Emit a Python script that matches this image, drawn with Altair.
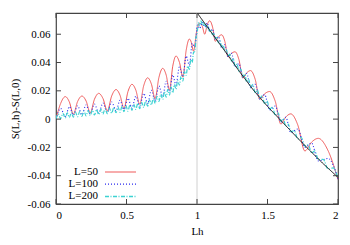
import altair as alt
import pandas as pd

x_ticks = [0, 0.5, 1, 1.5, 2]
y_ticks = [-0.06, -0.04, -0.02, 0, 0.02, 0.04, 0.06]
series_names = ["L=50", "L=100", "L=200"]

# L=50 (red, solid): troughs, shoulders and peaks
red_x = [0.000, 0.033, 0.066, 0.0945, 0.123, 0.1535, 0.184, 0.2135, 0.243, 0.273,
         0.303, 0.3335, 0.364, 0.395, 0.426, 0.454, 0.482, 0.5105, 0.539, 0.5665,
         0.594, 0.622, 0.650, 0.6765, 0.703, 0.730, 0.757, 0.781, 0.805, 0.828,
         0.851, 0.8755, 0.900, 0.923, 0.946, 0.9605, 0.975, 0.9975, 1.020, 1.0375,
         1.055, 1.0725, 1.090, 1.110, 1.130, 1.1525, 1.175, 1.1975, 1.220, 1.245,
         1.270, 1.2975, 1.325, 1.3525, 1.380, 1.4125, 1.445, 1.480, 1.515, 1.555,
         1.595, 1.630, 1.665, 1.715, 1.765, 1.8125, 1.860, 1.930, 2.000]
red_y = [0.0000, 0.0111, 0.0159, 0.0122, 0.0035, 0.0125, 0.0163, 0.0128, 0.0045, 0.0141,
         0.0182, 0.0145, 0.0058, 0.0164, 0.0209, 0.0169, 0.0076, 0.0195, 0.0246, 0.0204,
         0.0105, 0.0236, 0.0292, 0.0248, 0.0145, 0.0295, 0.0359, 0.0313, 0.0205, 0.0374,
         0.0446, 0.0401, 0.0297, 0.0485, 0.0566, 0.0540, 0.0480, 0.0620, 0.0680, 0.0656,
         0.0600, 0.0667, 0.0695, 0.0652, 0.0550, 0.0582, 0.0596, 0.0549, 0.0440, 0.0465,
         0.0476, 0.0420, 0.0290, 0.0327, 0.0343, 0.0282, 0.0140, 0.0179, 0.0195, 0.0126,
         -0.0035, 0.0015, 0.0037, -0.0042, -0.0225, -0.0163, -0.0136, -0.0224, -0.0428]

# L=100 (blue, dotted)
blue_x = [0.000, 0.033, 0.066, 0.095, 0.123, 0.153, 0.184, 0.213, 0.243, 0.273,
          0.303, 0.333, 0.364, 0.395, 0.426, 0.454, 0.482, 0.510, 0.539, 0.566,
          0.594, 0.622, 0.650, 0.676, 0.703, 0.730, 0.757, 0.781, 0.805, 0.828,
          0.851, 0.875, 0.900, 0.923, 0.946, 0.966, 0.985, 1.003, 1.020, 1.0375,
          1.055, 1.0725, 1.090, 1.110, 1.130, 1.1525, 1.175, 1.1975, 1.220, 1.245,
          1.270, 1.2975, 1.325, 1.3525, 1.380, 1.4125, 1.445, 1.480, 1.515, 1.555,
          1.595, 1.630, 1.665, 1.715, 1.765, 1.8125, 1.860, 1.930, 2.000]
blue_y = [0.0000, 0.0075, 0.0018, 0.0088, 0.0028, 0.0094, 0.0032, 0.0100, 0.0038, 0.0106,
          0.0043, 0.0113, 0.0050, 0.0121, 0.0058, 0.0133, 0.0068, 0.0147, 0.0078, 0.0162,
          0.0092, 0.0182, 0.0108, 0.0204, 0.0130, 0.0234, 0.0158, 0.0268, 0.0195, 0.0312,
          0.0240, 0.0368, 0.0300, 0.0445, 0.0380, 0.0535, 0.0510, 0.0665, 0.0640, 0.0685,
          0.0650, 0.0680, 0.0620, 0.0636, 0.0564, 0.0583, 0.0502, 0.0526, 0.0440, 0.0465,
          0.0370, 0.0392, 0.0295, 0.0323, 0.0222, 0.0246, 0.0143, 0.0173, 0.0064, 0.0092,
          -0.0020, 0.0013, -0.0095, -0.0070, -0.0200, -0.0169, -0.0295, -0.0278, -0.0422]

# L=200 (cyan, dash-dot)
cyan_x = [0.000, 0.016, 0.033, 0.049, 0.066, 0.080, 0.095, 0.109, 0.123, 0.138,
          0.153, 0.168, 0.184, 0.198, 0.213, 0.228, 0.243, 0.258, 0.273, 0.288,
          0.303, 0.318, 0.333, 0.348, 0.364, 0.379, 0.395, 0.410, 0.426, 0.440,
          0.454, 0.468, 0.482, 0.496, 0.510, 0.524, 0.539, 0.552, 0.566, 0.580,
          0.594, 0.608, 0.622, 0.636, 0.650, 0.663, 0.676, 0.690, 0.703, 0.716,
          0.730, 0.743, 0.757, 0.769, 0.781, 0.793, 0.805, 0.816, 0.828, 0.839,
          0.851, 0.863, 0.875, 0.887, 0.900, 0.911, 0.923, 0.934, 0.946, 0.956,
          0.966, 0.975, 0.985, 0.993, 1.000, 1.010, 1.020, 1.029, 1.0375, 1.046,
          1.055, 1.064, 1.0725, 1.081, 1.090, 1.100, 1.110, 1.120, 1.130, 1.141,
          1.1525, 1.164, 1.175, 1.186, 1.1975, 1.209, 1.220, 1.2325, 1.245, 1.2575,
          1.270, 1.284, 1.2975, 1.311, 1.325, 1.339, 1.3525, 1.366, 1.380, 1.396,
          1.4125, 1.429, 1.445, 1.4625, 1.480, 1.4975, 1.515, 1.535, 1.555, 1.575,
          1.595, 1.6125, 1.630, 1.6475, 1.665, 1.690, 1.715, 1.740, 1.765, 1.789,
          1.8125, 1.836, 1.860, 1.895, 1.930, 1.965, 2.000]
cyan_y = [0.0000, 0.0035, 0.0004, 0.0040, 0.0008, 0.0044, 0.0011, 0.0048, 0.0014, 0.0050,
          0.0017, 0.0053, 0.0020, 0.0057, 0.0023, 0.0060, 0.0026, 0.0063, 0.0029, 0.0067,
          0.0032, 0.0070, 0.0035, 0.0073, 0.0038, 0.0077, 0.0042, 0.0081, 0.0045, 0.0085,
          0.0049, 0.0090, 0.0053, 0.0095, 0.0056, 0.0099, 0.0062, 0.0105, 0.0068, 0.0111,
          0.0074, 0.0118, 0.0082, 0.0127, 0.0091, 0.0137, 0.0100, 0.0148, 0.0110, 0.0160,
          0.0125, 0.0176, 0.0140, 0.0193, 0.0155, 0.0210, 0.0170, 0.0228, 0.0186, 0.0246,
          0.0212, 0.0272, 0.0240, 0.0302, 0.0270, 0.0335, 0.0310, 0.0375, 0.0352, 0.0420,
          0.0400, 0.0470, 0.0480, 0.0580, 0.0600, 0.0680, 0.0660, 0.0695, 0.0665, 0.0685,
          0.0655, 0.0670, 0.0640, 0.0655, 0.0620, 0.0630, 0.0596, 0.0608, 0.0569, 0.0582,
          0.0538, 0.0552, 0.0507, 0.0522, 0.0476, 0.0492, 0.0445, 0.0460, 0.0410, 0.0427,
          0.0375, 0.0390, 0.0337, 0.0354, 0.0300, 0.0318, 0.0263, 0.0282, 0.0227, 0.0245,
          0.0186, 0.0205, 0.0148, 0.0165, 0.0108, 0.0127, 0.0069, 0.0085, 0.0027, 0.0045,
          -0.0015, 0.0003, -0.0052, -0.0035, -0.0088, -0.0082, -0.0140, -0.0130, -0.0191, -0.0180,
          -0.0239, -0.0225, -0.0286, -0.0285, -0.0353, -0.0345, -0.0417]

# limiting curve (black)
black_x = [1.0, 1.1, 1.2, 1.3, 1.4, 1.5, 1.6, 1.7, 1.8, 1.9, 2.0]
black_y = [0.0752, 0.0615, 0.0478, 0.0338, 0.0205, 0.0090, -0.0015, -0.0120, -0.0222, -0.0320, -0.0412]

series_colors = ["#f05a5a", "#2a2aee", "#3cd2d2"]
series_dash = [[1, 0], [1, 2], [4, 1.5, 1, 1.5]]

W, H = 282, 191
FONT = "Liberation Serif"
xs = alt.Scale(domain=[0, 2], nice=False, zero=False)
ys = alt.Scale(domain=[-0.06, 0.075], nice=False, zero=False)

x_axis = alt.Axis(values=x_ticks, labelExpr="datum.value", ticks=False, domain=False, grid=False,
                  labelFont=FONT, labelFontSize=11, labelColor="black", labelPadding=5,
                  title="Lh", titleFont=FONT, titleFontSize=11, titleFontWeight="normal",
                  titleColor="black", titleY=27, titleBaseline="middle")
y_axis = alt.Axis(values=y_ticks, labelExpr="datum.value", ticks=False, domain=False, grid=False,
                  labelFont=FONT, labelFontSize=11, labelColor="black", labelPadding=6,
                  title="S(L,h)-S(L,0)", titleFont=FONT, titleFontSize=11, titleFontWeight="normal",
                  titleColor="black", titleAngle=-90, titleX=-41, titleY=H / 2,
                  titleAlign="center", titleBaseline="middle")


def enc_x(field):
    return alt.X(field, type="quantitative", scale=xs, axis=x_axis)


def enc_y(field):
    return alt.Y(field, type="quantitative", scale=ys, axis=y_axis)


def line_layer(xv, yv, color, dash, width=1.0, interp="monotone"):
    df = pd.DataFrame({"x": xv, "y": yv})
    return alt.Chart(df).mark_line(color=color, strokeDash=dash, strokeWidth=width,
                                   interpolate=interp, clip=True).encode(
        x=enc_x("x"), y=enc_y("y"))


layers = []
layers.append(alt.Chart(pd.DataFrame({"x": [1.0]})).mark_rule(color="#d0d0d0", strokeWidth=1).encode(
    x=enc_x("x")))
layers.append(line_layer(red_x, red_y, series_colors[0], series_dash[0], 1.0))
layers.append(line_layer(blue_x, blue_y, series_colors[1], series_dash[1], 1.1))
layers.append(line_layer(cyan_x, cyan_y, series_colors[2], series_dash[2], 1.2))
layers.append(line_layer(black_x, black_y, "#111111", [1, 0], 1.0, "linear"))

# inward ticks (gnuplot style, mirrored)
xt = pd.DataFrame({"t": x_ticks})
yt = pd.DataFrame({"t": y_ticks})
tick_col = "#444444"
layers.append(alt.Chart(xt).mark_rule(color=tick_col).encode(x=enc_x("t"), y=alt.value(H), y2=alt.value(H - 5)))
layers.append(alt.Chart(xt).mark_rule(color=tick_col).encode(x=enc_x("t"), y=alt.value(0), y2=alt.value(5)))
layers.append(alt.Chart(yt).mark_rule(color=tick_col).encode(y=enc_y("t"), x=alt.value(0), x2=alt.value(5)))
layers.append(alt.Chart(yt).mark_rule(color=tick_col).encode(y=enc_y("t"), x=alt.value(W - 5), x2=alt.value(W)))

# legend (label then line sample, as in the reference)
for i, name in enumerate(series_names):
    row_y = 159 + 12.2 * i
    ldf = pd.DataFrame({"name": [name]})
    layers.append(alt.Chart(ldf).mark_text(align="right", baseline="middle", font=FONT, fontSize=11,
                                           color="black").encode(
        text="name:N", x=alt.value(42), y=alt.value(row_y)))
    layers.append(alt.Chart(ldf).mark_rule(color=series_colors[i], strokeDash=series_dash[i],
                                           strokeWidth=1.5 if i == 2 else 1.2).encode(
        x=alt.value(49), x2=alt.value(80), y=alt.value(row_y)))

chart = alt.layer(*layers).properties(
    width=W, height=H,
    padding={"left": 48, "top": 5, "right": 3, "bottom": 33},
    autosize=alt.AutoSizeParams(type="none"),
).configure_view(stroke="#444444", strokeWidth=1.2)

chart.save("out.html", embed_options={"renderer": "svg", "actions": False})
